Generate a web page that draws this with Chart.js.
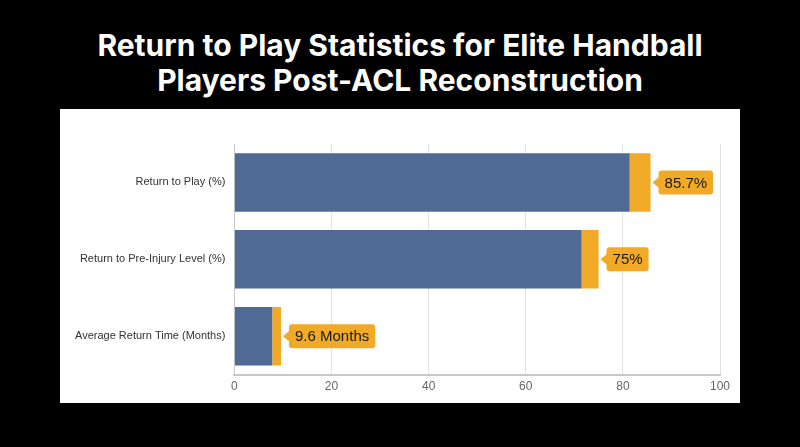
<!DOCTYPE html>
<html lang="en">
<head>
    <meta charset="UTF-8">
    <title>Return to Play Statistics for Elite Handball Players Post-ACL Reconstruction</title>
    <script src="https://cdn.jsdelivr.net/npm/chart.js"></script>
    <style>
        html, body { margin: 0; padding: 0; background: #000; }
        body { width: 800px; height: 447px; position: relative; font-family: Inter, "Noto Sans", sans-serif; }
        h1 {
            position: absolute; left: 0; top: 28px; width: 800px; margin: 0;
            color: #fff; font-size: 30px; font-weight: 700; line-height: 35px; text-align: center;
        }
        #card { position: absolute; left: 60px; top: 109px; width: 680px; height: 294px; background: #fff; }
    </style>
</head>
<body>
    <h1>Return to Play Statistics for Elite Handball<br>Players Post-ACL Reconstruction</h1>
    <div id="card"><canvas id="myChart" width="680" height="294"></canvas></div>

    <script>
        // 카테고리와 값
        const categories = ['Return to Play (%)', 'Return to Pre-Injury Level (%)', 'Average Return Time (Months)'];
        const baseValues = [81.4, 71.5, 7.8];     // 파란 막대
        const totalValues = [85.7, 75, 9.6];      // 막대 끝 (주황 포함)
        const valueLabels = ['85.7%', '75%', '9.6 Months'];
        const xTicks = [0, 20, 40, 60, 80, 100];

        const blue = 'rgb(79, 106, 148)';
        const orange = 'rgb(241, 169, 40)';
        const labelFont = 'Helvetica, "Liberation Sans", Arial, sans-serif';

        // 막대 끝에 말풍선 라벨 그리기
        const calloutPlugin = {
            id: 'callout',
            afterDatasetsDraw(chart) {
                const ctx = chart.ctx;
                const meta = chart.getDatasetMeta(1);
                ctx.save();
                ctx.font = '15px ' + labelFont;
                ctx.textBaseline = 'middle';
                meta.data.forEach((bar, i) => {
                    const text = valueLabels[i];
                    const w = ctx.measureText(text).width + 12;
                    const h = 24;
                    const tip = bar.x + 2;
                    const left = tip + 6;
                    const top = bar.y - h / 2;
                    ctx.fillStyle = orange;
                    ctx.beginPath();
                    ctx.roundRect(left, top, w, h, 3);
                    ctx.fill();
                    ctx.beginPath();
                    ctx.moveTo(tip, bar.y);
                    ctx.lineTo(left + 1, bar.y - 6);
                    ctx.lineTo(left + 1, bar.y + 6);
                    ctx.closePath();
                    ctx.fill();
                    ctx.fillStyle = '#1a1a1a';
                    ctx.fillText(text, left + 6, bar.y + 1);
                });
                ctx.restore();
            }
        };

        const ctx = document.getElementById('myChart').getContext('2d');
        new Chart(ctx, {
            type: 'bar',
            data: {
                labels: categories,
                datasets: [
                    {
                        data: baseValues,
                        backgroundColor: blue,
                        barPercentage: 0.76,
                        categoryPercentage: 1
                    },
                    {
                        data: totalValues.map((v, i) => v - baseValues[i]),
                        backgroundColor: orange,
                        barPercentage: 0.76,
                        categoryPercentage: 1
                    }
                ]
            },
            options: {
                indexAxis: 'y',
                responsive: false,
                animation: false,
                layout: { padding: { left: 6, right: 20, top: 35, bottom: 4 } },
                plugins: {
                    legend: { display: false },
                    tooltip: { enabled: false }
                },
                scales: {
                    x: {
                        stacked: true,
                        min: 0,
                        max: 100,
                        afterBuildTicks: axis => { axis.ticks = xTicks.map(v => ({ value: v })); },
                        grid: { color: '#e2e2e2', drawTicks: false },
                        border: { color: '#c8c8c8', width: 2 },
                        ticks: { color: '#666', font: { size: 12, family: labelFont }, padding: 5 }
                    },
                    y: {
                        stacked: true,
                        grid: { display: false, drawTicks: false },
                        border: { color: '#c8c8c8', width: 1 },
                        ticks: { color: '#333', font: { size: 11, family: labelFont }, padding: 9 }
                    }
                }
            },
            plugins: [calloutPlugin]
        });
    </script>
</body>
</html>
